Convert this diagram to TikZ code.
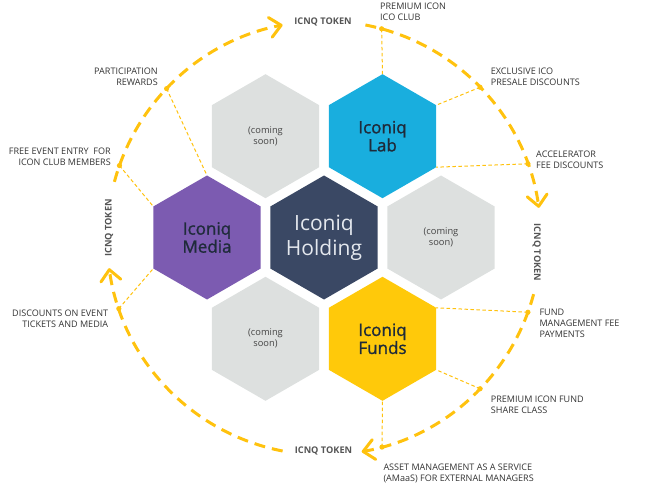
\documentclass[tikz,border=0pt]{standalone}
\usepackage{fontspec}
\setmainfont{Open Sans}
\newfontfamily\hexfont{Open Sans}[FakeBold=1.2]
\usetikzlibrary{arrows.meta,calc}
\definecolor{greyhex}{HTML}{DDE0DF}
\definecolor{labblue}{HTML}{19AEDE}
\definecolor{mediapurple}{HTML}{7C5BB1}
\definecolor{holdnavy}{HTML}{3A4864}
\definecolor{fundyellow}{HTML}{FFC90A}
\definecolor{arcyellow}{HTML}{FFC20E}
\definecolor{labeltext}{HTML}{333333}
\definecolor{tokentext}{HTML}{555555}
\definecolor{hextext}{HTML}{1F2B3A}
\definecolor{holdtext}{HTML}{E4E8EE}
\definecolor{soontext}{HTML}{444444}
\begin{document}
\begin{tikzpicture}[x=1pt,y=-1pt,
  pics/hexpic/.style={code={\fill[#1] (-30:62) -- (30:62) -- (90:62) -- (150:62) -- (210:62) -- (270:62) -- cycle;}},
  tokenarc/.style={draw=arcyellow, line width=3pt, dash pattern=on 11pt off 7pt,
    -{Straight Barb[length=11pt,width=20pt,round]}},
  thindash/.style={draw=arcyellow, line width=1pt, dash pattern=on 3.5pt off 2.5pt},
  dotmark/.style={fill=arcyellow},
  lbl/.style={font=\fontsize{9.05}{11}\selectfont, text=labeltext, inner sep=0pt},
  tok/.style={font=\fontsize{9.2}{10}\selectfont\bfseries, text=tokentext, inner sep=0pt},
  hexlbl/.style={font=\hexfont\fontsize{17}{18}\selectfont, text=hextext, align=center, inner sep=0pt},
  holdlbl/.style={font=\fontsize{21}{25}\selectfont, text=holdtext, align=center, inner sep=0pt},
  soonlbl/.style={font=\fontsize{9.3}{11}\selectfont, text=soontext, align=center, inner sep=0pt}
]
\useasboundingbox (0,0) rectangle (647,494);

% hexagon centres
\coordinate (cH) at (324,237.5);
\coordinate (cLab) at (382.5,136.2);
\coordinate (cNW) at (265.5,136.2);
\coordinate (cMed) at (207,237.5);
\coordinate (cE) at (441,237.5);
\coordinate (cSW) at (265.5,338.8);
\coordinate (cFun) at (382.5,338.8);

\pic at (cNW) {hexpic=greyhex};
\pic at (cLab) {hexpic=labblue};
\pic at (cMed) {hexpic=mediapurple};
\pic at (cH) {hexpic=holdnavy};
\pic at (cE) {hexpic=greyhex};
\pic at (cSW) {hexpic=greyhex};
\pic at (cFun) {hexpic=fundyellow};

\node[hexlbl] (tLab) at (cLab) {Iconiq\\Lab};
\node[hexlbl] (tMed) at (cMed) {Iconiq\\Media};
\node[hexlbl] (tFun) at (cFun) {Iconiq\\Funds};
\node[holdlbl] (tHold) at (cH) {Iconiq\\Holding};
\node[soonlbl] (tNW) at (cNW) {(coming\\soon)};
\node[soonlbl] (tE) at (cE) {(coming\\soon)};
\node[soonlbl] (tSW) at (cSW) {(coming\\soon)};

% circle of token flows
\coordinate (O) at (324,238);
\draw[tokenarc] ([shift={(-165:217)}]O) arc[start angle=-165, end angle=-101, radius=217];
\draw[tokenarc] ([shift={(-79:217)}]O) arc[start angle=-79, end angle=-8, radius=217];
\draw[tokenarc] ([shift={(15:217)}]O) arc[start angle=15, end angle=80, radius=217];
\draw[tokenarc] ([shift={(101:217)}]O) arc[start angle=101, end angle=172, radius=217];

\node[tok] (tokTop) at (323,21.7) {ICNQ TOKEN};
\node[tok] (tokBot) at (323.5,450.7) {ICNQ TOKEN};
\node[tok, rotate=90] (tokL) at (109,228) {ICNQ TOKEN};
\node[tok, rotate=-90] (tokR) at (536.7,252.5) {ICNQ TOKEN};

% dots on the circle
\coordinate (dPart) at ($(O)+(-136.5:217)$);
\coordinate (dFree) at ($(O)+(-160.5:217)$);
\coordinate (dDisc) at ($(O)+(161:217)$);
\coordinate (dClub) at ($(O)+(-74.6:217)$);
\coordinate (dExcl) at ($(O)+(-44:217)$);
\coordinate (dAcc) at ($(O)+(-20:217)$);
\coordinate (dFee) at ($(O)+(20:217)$);
\coordinate (dShare) at ($(O)+(44:217)$);
\coordinate (dAmaas) at ($(O)+(74.5:217)$);

% hexagon vertices
\coordinate (vMedTop) at ($(cMed)+(-90:62)$);
\coordinate (vMedUL) at ($(cMed)+(-150:62)$);
\coordinate (vMedLL) at ($(cMed)+(150:62)$);
\coordinate (vLabTop) at ($(cLab)+(-90:62)$);
\coordinate (vLabUR) at ($(cLab)+(-30:62)$);
\coordinate (vLabLR) at ($(cLab)+(30:62)$);
\coordinate (vFunUR) at ($(cFun)+(-30:62)$);
\coordinate (vFunLR) at ($(cFun)+(30:62)$);
\coordinate (vFunBot) at ($(cFun)+(90:62)$);

\draw[thindash] (dPart) -- (vMedTop);
\draw[thindash] (dFree) -- (vMedUL);
\draw[thindash] (dDisc) -- (vMedLL);
\draw[thindash] (dClub) -- (vLabTop);
\draw[thindash] (dExcl) -- (vLabUR);
\draw[thindash] (dAcc) -- (vLabLR);
\draw[thindash] (dFee) -- (vFunUR);
\draw[thindash] (dShare) -- (vFunLR);
\draw[thindash] (dAmaas) -- (vFunBot);

\foreach \d in {dPart,dFree,dDisc,dClub,dExcl,dAcc,dFee,dShare,dAmaas}
  \fill[dotmark] (\d) circle[radius=2.6];

% labels
\node[lbl, anchor=east, align=right] (lPart) at (158,76.3) {PARTICIPATION\\REWARDS};
\node[lbl, anchor=east, align=right] (lFree) at (111,156.8) {FREE EVENT ENTRY\ \ FOR\\ICON CLUB MEMBERS};
\node[lbl, anchor=east, align=right] (lDisc) at (108.3,318.3) {DISCOUNTS ON EVENT\\TICKETS AND MEDIA};
\node[lbl, anchor=west, align=left] (lClub) at (380,11.7) {PREMIUM ICON\\ICO CLUB};
\node[lbl, anchor=west, align=left] (lExcl) at (490.7,76.3) {EXCLUSIVE ICO\\PRESALE DISCOUNTS};
\node[lbl, anchor=west, align=left] (lAcc) at (536,159.5) {ACCELERATOR\\FEE DISCOUNTS};
\node[lbl, anchor=west, align=left] (lFee) at (539.3,323.8) {FUND\\MANAGEMENT FEE\\PAYMENTS};
\node[lbl, anchor=west, align=left] (lShare) at (490.7,404.5) {PREMIUM ICON FUND\\SHARE CLASS};
\node[lbl, anchor=west, align=left] (lAmaas) at (383.3,473.5) {ASSET MANAGEMENT AS A SERVICE\\(AMaaS) FOR EXTERNAL MANAGERS};
\end{tikzpicture}
\end{document}
